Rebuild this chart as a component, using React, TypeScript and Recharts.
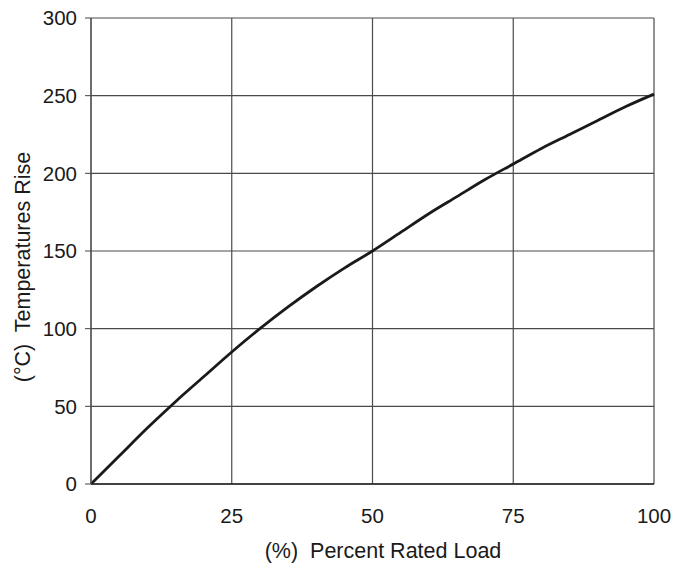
import React from "react";
import {
  LineChart,
  Line,
  XAxis,
  YAxis,
  CartesianGrid,
  Label,
} from "recharts";

const loadPct = [0, 5, 10, 15, 20, 25, 30, 35, 40, 45, 50, 55, 60, 65, 70, 75, 80, 85, 90, 95, 100];
const tempRise = [0, 18, 36, 53, 69, 85, 100, 114, 127, 139, 150, 162, 174, 185, 196, 206, 216, 225, 234, 243, 251];

const xTicks = [0, 25, 50, 75, 100];
const yTicks = [0, 50, 100, 150, 200, 250, 300];

const xTitle = "(%)  Percent Rated Load";
const yTitle = "(°C)  Temperatures Rise";

const data = loadPct.map((x, i) => ({ x, y: tempRise[i] }));

const FONT = "'Liberation Sans', Arial, sans-serif";
const INK = "#1a1a1a";

const XTitle = () => (
  <text
    x={383}
    y={558}
    textAnchor="middle"
    fontSize={21.5}
    fill={INK}
    style={{ whiteSpace: "pre" }}
  >
    {xTitle}
  </text>
);

const YTitle = () => (
  <text
    x={30}
    y={267}
    transform="rotate(-90 30 267)"
    textAnchor="middle"
    fontSize={21.5}
    fill={INK}
    style={{ whiteSpace: "pre" }}
  >
    {yTitle}
  </text>
);

export default function App() {
  return (
    <div style={{ position: "absolute", left: 0, top: 0, background: "#fff", fontFamily: FONT }}>
      <LineChart
        width={687}
        height={565}
        data={data}
        margin={{ top: 18, right: 33, bottom: 0, left: 0 }}
      >
        <CartesianGrid stroke="#4a4a4a" strokeWidth={1.2} />
        <XAxis
          dataKey="x"
          type="number"
          domain={[0, 100]}
          ticks={xTicks}
          height={81}
          tickLine={false}
          tickSize={0}
          tickMargin={24}
          axisLine={{ stroke: "#222", strokeWidth: 1.5 }}
          tick={{ fill: INK, fontSize: 20.5, fontFamily: FONT }}
        >
          <Label content={<XTitle />} />
        </XAxis>
        <YAxis
          type="number"
          domain={[0, 300]}
          ticks={yTicks}
          width={91}
          tickSize={6}
          tickMargin={8}
          tickLine={{ stroke: "#444" }}
          axisLine={{ stroke: "#555", strokeWidth: 1.2 }}
          tick={{ fill: INK, fontSize: 20.5, fontFamily: FONT }}
        >
          <Label content={<YTitle />} />
        </YAxis>
        <Line
          type="monotone"
          dataKey="y"
          stroke="#1a1a1a"
          strokeWidth={2.8}
          dot={false}
          isAnimationActive={false}
        />
      </LineChart>
    </div>
  );
}
